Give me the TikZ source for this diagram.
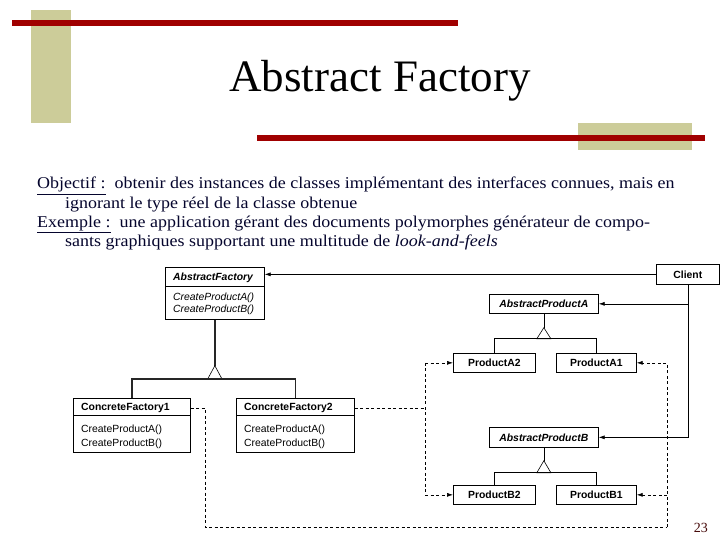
\documentclass[tikz,border=0pt]{standalone}
\usepackage{fontspec}
\setmainfont{Liberation Serif}
\newfontfamily\bodyfont[FakeStretch=1.09]{Liberation Serif}
\newfontfamily\umlfont{Liberation Sans}
\usetikzlibrary{arrows.meta,shadows}
\definecolor{barred}{RGB}{160,0,0}
\definecolor{tanbar}{RGB}{204,204,153}
\definecolor{ink}{RGB}{5,5,45}
\definecolor{pgcol}{RGB}{70,10,10}
\begin{document}
\begin{tikzpicture}[x=1pt,y=-1pt,
  cls/.style={draw=black, line width=0.7pt, fill=white, anchor=north west, inner sep=0pt,
    drop shadow={shadow xshift=1pt, shadow yshift=-1pt, opacity=0.8, fill=black}},
  ubold/.style={font=\umlfont\bfseries\fontsize{10.4}{11}\selectfont},
  uboldit/.style={font=\umlfont\bfseries\itshape\fontsize{10.4}{11}\selectfont},
  uit/.style={font=\umlfont\itshape\fontsize{10.4}{11}\selectfont},
  ureg/.style={font=\umlfont\fontsize{10.4}{11}\selectfont},
  lbl/.style={anchor=base west, inner sep=0pt},
  body/.style={anchor=base west, inner sep=0pt, text=ink, font=\bodyfont\fontsize{16.5}{19}\selectfont},
  arr/.style={-{Latex[length=6pt,width=4pt]}},
  dsh/.style={dash pattern=on 3pt off 2.5pt, line width=0.6pt},
  thin/.style={line width=0.6pt},
  heavy/.style={line width=1.6pt, black!85}
]
\useasboundingbox (0,0) rectangle (720,540);
\fill[white] (0,0) rectangle (720,540);
% decorations
\fill[tanbar] (31,10) rectangle (71,123);
\fill[tanbar] (578,123) rectangle (692,150);
\fill[barred] (12,20) rectangle (458,26);
\fill[barred] (257,135) rectangle (705,141);
% title
\node[anchor=base, inner sep=0pt, font=\fontsize{45}{50}\selectfont] (title) at (380,92) {Abstract Factory};
% body text
\node[body] (l1) at (37,189) {\underline{Objectif :}\ \ obtenir des instances de classes implémentant des interfaces connues, mais en};
\node[body] (l2) at (65,208) {ignorant le type réel de la classe obtenue};
\node[body] (l3) at (37,227) {\underline{Exemple :}\ \ une application gérant des documents polymorphes générateur de compo-};
\node[body] (l4) at (65,246) {sants graphiques supportant une multitude de \textit{look-and-feels}};
% classes
\node[cls, minimum width=99pt, minimum height=52pt] (af) at (165,267) {};
\draw[thin] ([yshift=-19pt]af.north west) -- ([yshift=-19pt]af.north east);
\node[lbl, uboldit] (afT) at (173,280.5) {AbstractFactory};
\node[lbl, uit] (afM1) at (173,300.5) {CreateProductA()};
\node[lbl, uit] (afM2) at (173,312.5) {CreateProductB()};

\node[cls, minimum width=117pt, minimum height=54pt] (cf1) at (73,398) {};
\draw[thin] ([yshift=-17pt]cf1.north west) -- ([yshift=-17pt]cf1.north east);
\node[lbl, ubold] (cf1T) at (81,410.5) {ConcreteFactory1};
\node[lbl, ureg] (cf1M1) at (81,432) {CreateProductA()};
\node[lbl, ureg] (cf1M2) at (81,446) {CreateProductB()};

\node[cls, minimum width=118pt, minimum height=54pt] (cf2) at (236,398) {};
\draw[thin] ([yshift=-17pt]cf2.north west) -- ([yshift=-17pt]cf2.north east);
\node[lbl, ubold] (cf2T) at (244,410.5) {ConcreteFactory2};
\node[lbl, ureg] (cf2M1) at (244,432) {CreateProductA()};
\node[lbl, ureg] (cf2M2) at (244,446) {CreateProductB()};

\node[cls, ubold, minimum width=63pt, minimum height=20pt] (cl) at (656,264) {Client};
\node[cls, uboldit, minimum width=109pt, minimum height=19pt] (apa) at (489,294) {AbstractProductA};
\node[cls, ubold, minimum width=82pt, minimum height=19pt] (pa2) at (453,353) {ProductA2};
\node[cls, ubold, minimum width=80pt, minimum height=19pt] (pa1) at (556,353) {ProductA1};
\node[cls, uboldit, minimum width=109pt, minimum height=20pt] (apb) at (489,427) {AbstractProductB};
\node[cls, ubold, minimum width=82pt, minimum height=19pt] (pb2) at (453,485) {ProductB2};
\node[cls, ubold, minimum width=80pt, minimum height=19pt] (pb1) at (556,485) {ProductB1};

% factory inheritance
\draw[heavy] (af.south) -- ++(0,46) coordinate (fapex);
\path (fapex) ++(0,13) coordinate (fbase);
\draw[thin] (fapex) -- ++(-7,13) -- ++(14,0) -- cycle;
\draw[heavy] (cf1.north) |- (fbase) -| (cf2.north);
% product A inheritance
\draw[thin] (apa.south) -- ++(0,14) coordinate (aapex);
\path (aapex) ++(0,11) coordinate (abase);
\draw[thin] (aapex) -- ++(-7,11) -- ++(14,0) -- cycle;
\draw[thin] (pa2.north) |- (abase) -| (pa1.north);
% product B inheritance
\draw[thin] (apb.south) -- ++(0,13) coordinate (bapex);
\path (bapex) ++(0,12) coordinate (bbase);
\draw[thin] (bapex) -- ++(-7,12) -- ++(14,0) -- cycle;
\draw[thin] (pb2.north) |- (bbase) -| (pb1.north);
% client associations
\draw[thin, arr] (cl.west) -- (cl.west -| af.east);
\draw[thin, arr] (cl.south) |- (apb.east);
\draw[thin, arr] (cl.south |- apa.east) -- (apa.east);
% dashed instantiations
\coordinate (c1) at (205,527);
\coordinate (c2) at (667,527);
\coordinate (c3) at (425,527);
\coordinate (cf1o) at ([yshift=-10pt]cf1.north east);
\coordinate (cf2o) at ([yshift=-10pt]cf2.north east);
\draw[dsh] (cf1o) -| (c1) -- (c2);
\draw[dsh, arr] (c2) |- (pa1.east);
\draw[dsh, arr] (c2 |- pb1.east) -- (pb1.east);
\draw[dsh] (cf2o) -- (cf2o -| c3);
\draw[dsh, arr] (c3 |- pa2.west) -- (pa2.west);
\draw[dsh, arr] (c3 |- pa2.west) |- (pb2.west);
% page number
\node[anchor=base east, inner sep=0pt, text=pgcol, font=\fontsize{14}{16}\selectfont] (pg) at (708,532) {23};
\end{tikzpicture}
\end{document}
